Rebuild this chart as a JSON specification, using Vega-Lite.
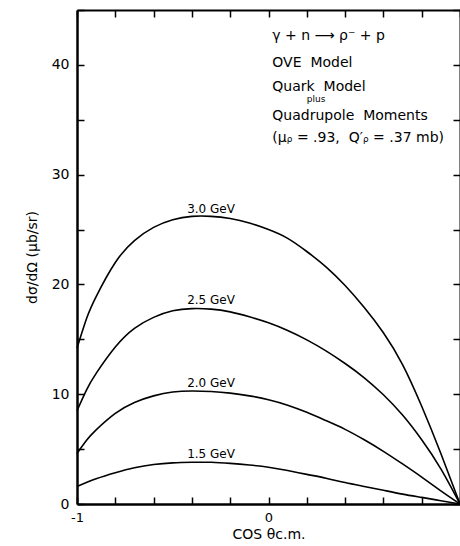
{
  "$schema": "https://vega.github.io/schema/vega-lite/v6.json",
  "width": 383,
  "height": 494,
  "autosize": {"type": "none"},
  "padding": {"left": 77, "top": 10, "right": 0, "bottom": 42},
  "background": "white",
  "config": {
    "view": {"stroke": null},
    "font": "DejaVu Sans",
    "axis": {"grid": false, "domainColor": "black", "tickColor": "black", "labelColor": "black", "titleColor": "black", "domainWidth": 2.5, "tickWidth": 1.5, "tickSize": -7, "labelFont": "DejaVu Sans", "titleFont": "DejaVu Sans", "titleFontWeight": "normal"}
  },
  "datasets": {
    "curves": [
      {"cos": -1, "v": 14.2, "E": "3.0"}, {"cos": -0.95, "v": 16.9, "E": "3.0"}, {"cos": -0.9, "v": 18.9, "E": "3.0"}, {"cos": -0.8, "v": 22.0, "E": "3.0"}, {"cos": -0.7, "v": 24.0, "E": "3.0"}, {"cos": -0.6, "v": 25.2, "E": "3.0"}, {"cos": -0.5, "v": 25.9, "E": "3.0"}, {"cos": -0.4, "v": 26.2, "E": "3.0"}, {"cos": -0.3, "v": 26.2, "E": "3.0"}, {"cos": -0.2, "v": 26.0, "E": "3.0"}, {"cos": -0.1, "v": 25.6, "E": "3.0"}, {"cos": 0, "v": 25.0, "E": "3.0"}, {"cos": 0.1, "v": 24.2, "E": "3.0"}, {"cos": 0.2, "v": 23.0, "E": "3.0"}, {"cos": 0.3, "v": 21.6, "E": "3.0"}, {"cos": 0.4, "v": 19.9, "E": "3.0"}, {"cos": 0.5, "v": 17.9, "E": "3.0"}, {"cos": 0.6, "v": 15.6, "E": "3.0"}, {"cos": 0.7, "v": 12.7, "E": "3.0"}, {"cos": 0.8, "v": 8.9, "E": "3.0"}, {"cos": 0.9, "v": 4.6, "E": "3.0"}, {"cos": 1, "v": 0, "E": "3.0"},
      {"cos": -1, "v": 8.5, "E": "2.5"}, {"cos": -0.95, "v": 10.4, "E": "2.5"}, {"cos": -0.9, "v": 11.9, "E": "2.5"}, {"cos": -0.8, "v": 14.3, "E": "2.5"}, {"cos": -0.7, "v": 16.0, "E": "2.5"}, {"cos": -0.6, "v": 17.0, "E": "2.5"}, {"cos": -0.5, "v": 17.6, "E": "2.5"}, {"cos": -0.4, "v": 17.8, "E": "2.5"}, {"cos": -0.3, "v": 17.75, "E": "2.5"}, {"cos": -0.2, "v": 17.5, "E": "2.5"}, {"cos": -0.1, "v": 17.05, "E": "2.5"}, {"cos": 0, "v": 16.5, "E": "2.5"}, {"cos": 0.1, "v": 15.8, "E": "2.5"}, {"cos": 0.2, "v": 14.95, "E": "2.5"}, {"cos": 0.3, "v": 13.95, "E": "2.5"}, {"cos": 0.4, "v": 12.8, "E": "2.5"}, {"cos": 0.5, "v": 11.5, "E": "2.5"}, {"cos": 0.6, "v": 9.95, "E": "2.5"}, {"cos": 0.7, "v": 8.1, "E": "2.5"}, {"cos": 0.8, "v": 5.85, "E": "2.5"}, {"cos": 0.9, "v": 3.2, "E": "2.5"}, {"cos": 1, "v": 0, "E": "2.5"},
      {"cos": -1, "v": 4.6, "E": "2.0"}, {"cos": -0.95, "v": 5.8, "E": "2.0"}, {"cos": -0.9, "v": 6.75, "E": "2.0"}, {"cos": -0.8, "v": 8.25, "E": "2.0"}, {"cos": -0.7, "v": 9.25, "E": "2.0"}, {"cos": -0.6, "v": 9.85, "E": "2.0"}, {"cos": -0.5, "v": 10.2, "E": "2.0"}, {"cos": -0.4, "v": 10.3, "E": "2.0"}, {"cos": -0.3, "v": 10.25, "E": "2.0"}, {"cos": -0.2, "v": 10.1, "E": "2.0"}, {"cos": -0.1, "v": 9.85, "E": "2.0"}, {"cos": 0, "v": 9.5, "E": "2.0"}, {"cos": 0.1, "v": 9.0, "E": "2.0"}, {"cos": 0.2, "v": 8.35, "E": "2.0"}, {"cos": 0.3, "v": 7.6, "E": "2.0"}, {"cos": 0.4, "v": 6.8, "E": "2.0"}, {"cos": 0.5, "v": 5.85, "E": "2.0"}, {"cos": 0.6, "v": 4.8, "E": "2.0"}, {"cos": 0.7, "v": 3.65, "E": "2.0"}, {"cos": 0.8, "v": 2.45, "E": "2.0"}, {"cos": 0.9, "v": 1.2, "E": "2.0"}, {"cos": 1, "v": 0, "E": "2.0"},
      {"cos": -1, "v": 1.6, "E": "1.5"}, {"cos": -0.9, "v": 2.3, "E": "1.5"}, {"cos": -0.8, "v": 2.85, "E": "1.5"}, {"cos": -0.7, "v": 3.3, "E": "1.5"}, {"cos": -0.6, "v": 3.6, "E": "1.5"}, {"cos": -0.5, "v": 3.75, "E": "1.5"}, {"cos": -0.4, "v": 3.8, "E": "1.5"}, {"cos": -0.3, "v": 3.8, "E": "1.5"}, {"cos": -0.2, "v": 3.7, "E": "1.5"}, {"cos": -0.1, "v": 3.55, "E": "1.5"}, {"cos": 0, "v": 3.35, "E": "1.5"}, {"cos": 0.1, "v": 3.05, "E": "1.5"}, {"cos": 0.2, "v": 2.7, "E": "1.5"}, {"cos": 0.3, "v": 2.35, "E": "1.5"}, {"cos": 0.4, "v": 1.95, "E": "1.5"}, {"cos": 0.5, "v": 1.6, "E": "1.5"}, {"cos": 0.6, "v": 1.25, "E": "1.5"}, {"cos": 0.7, "v": 0.9, "E": "1.5"}, {"cos": 0.8, "v": 0.6, "E": "1.5"}, {"cos": 0.9, "v": 0.3, "E": "1.5"}, {"cos": 1, "v": 0, "E": "1.5"}
    ],
    "labels": [
      {"cos": -0.3, "v": 26.9, "t": "3.0 GeV"},
      {"cos": -0.3, "v": 18.6, "t": "2.5 GeV"},
      {"cos": -0.3, "v": 11.0, "t": "2.0 GeV"},
      {"cos": -0.3, "v": 4.6, "t": "1.5 GeV"}
    ],
    "notes": [
      {"cos": 0.02, "v": 42.6, "t": "γ + n ⟶ ρ⁻ + p"},
      {"cos": 0.02, "v": 40.2, "t": "OVE\u00a0\u00a0Model"},
      {"cos": 0.02, "v": 38.0, "t": "Quark\u00a0\u00a0Model"},
      {"cos": 0.02, "v": 35.3, "t": "Quadrupole\u00a0\u00a0Moments"},
      {"cos": 0.02, "v": 33.3, "t": "(μᵨ = .93,\u00a0\u00a0Q′ᵨ = .37 mb)"}
    ],
    "small": [
      {"cos": 0.2, "v": 36.9, "t": "plus"}
    ]
  },
  "resolve": {"axis": {"x": "independent", "y": "independent"}},
  "layer": [
    {
      "data": {"name": "curves"},
      "mark": {"type": "line", "color": "black", "strokeWidth": 1.6, "interpolate": "natural"},
      "encoding": {
        "x": {"field": "cos", "type": "quantitative", "scale": {"domain": [-1, 1], "nice": false},
          "axis": {"orient": "bottom", "values": [-1, -0.8, -0.6, -0.4, -0.2, 0, 0.2, 0.4, 0.6, 0.8, 1], "labelExpr": "datum.value == -1 ? '-1' : (datum.value == 0 ? '0' : '')", "labelFontSize": 13, "labelPadding": 14, "labelFlush": false, "title": "COS θc.m.", "titleFontSize": 14, "titlePadding": 3}},
        "y": {"field": "v", "type": "quantitative", "scale": {"domain": [0, 45], "nice": false, "zero": false},
          "axis": {"orient": "left", "values": [0, 5, 10, 15, 20, 25, 30, 35, 40, 45], "labelExpr": "datum.value % 10 == 0 ? datum.label : ''", "labelFontSize": 14, "labelPadding": 15, "labelFlush": false, "title": "dσ/dΩ (μb/sr)", "titleFontSize": 14, "titlePadding": 12}},
        "detail": {"field": "E"}
      }
    },
    {
      "data": {"name": "labels"},
      "mark": {"type": "text", "color": "black", "fontSize": 12, "align": "center", "baseline": "middle"},
      "encoding": {
        "x": {"field": "cos", "type": "quantitative", "axis": {"orient": "top", "values": [-1, -0.8, -0.6, -0.4, -0.2, 0, 0.2, 0.4, 0.6, 0.8, 1], "labels": false, "title": null, "domainWidth": 2}},
        "y": {"field": "v", "type": "quantitative", "axis": {"orient": "right", "values": [0, 5, 10, 15, 20, 25, 30, 35, 40, 45], "labels": false, "title": null, "domainWidth": 2}},
        "text": {"field": "t"}
      }
    },
    {
      "data": {"name": "notes"},
      "mark": {"type": "text", "color": "black", "fontSize": 14, "align": "left", "baseline": "middle"},
      "encoding": {
        "x": {"field": "cos", "type": "quantitative", "axis": null},
        "y": {"field": "v", "type": "quantitative", "axis": null},
        "text": {"field": "t"}
      }
    },
    {
      "data": {"name": "small"},
      "mark": {"type": "text", "color": "black", "fontSize": 9, "align": "left", "baseline": "middle"},
      "encoding": {
        "x": {"field": "cos", "type": "quantitative", "axis": null},
        "y": {"field": "v", "type": "quantitative", "axis": null},
        "text": {"field": "t"}
      }
    }
  ]
}
